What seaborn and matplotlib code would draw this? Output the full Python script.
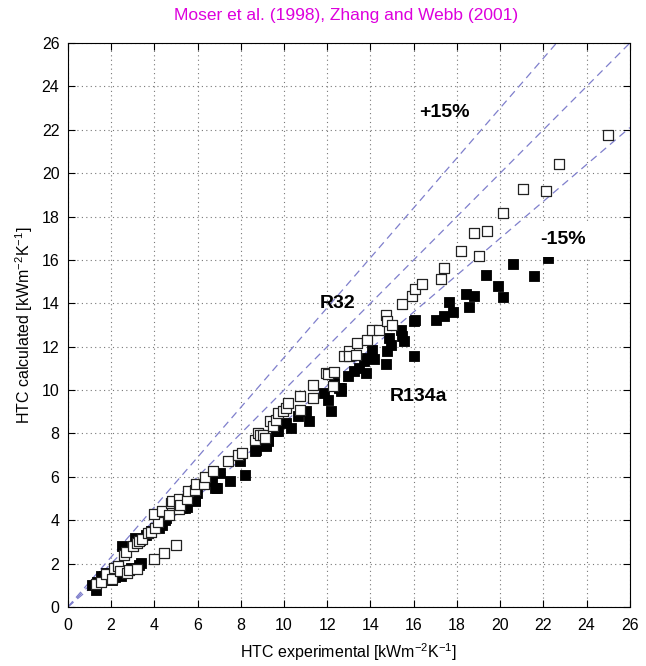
import matplotlib
matplotlib.use("Agg")
import matplotlib.pyplot as plt
import seaborn as sns
import numpy as np
import pandas as pd

# R32 data (open squares): experimental vs calculated HTC [kW m^-2 K^-1]
r32_exp = [1.30, 1.55, 1.75, 2.05, 2.15, 2.30, 2.40, 2.75, 2.85, 3.20,
           2.60, 2.70, 3.00, 3.20, 3.30, 3.45, 3.70, 3.85, 4.05, 4.15,
           4.00, 4.36, 4.70, 4.75, 4.82, 5.15, 5.15, 5.20, 5.50, 5.55,
           5.90, 5.95, 6.30, 6.35, 6.70, 7.43, 7.89, 8.04, 8.65, 8.80,
           8.88, 9.03, 9.11, 9.34, 9.49, 9.65, 9.72, 9.95, 10.10, 10.18,
           10.72, 10.72, 11.33, 11.33, 11.95, 12.03, 12.33, 12.25, 12.79, 13.02,
           13.02, 13.32, 13.40, 13.86, 14.09, 14.40, 14.70, 14.78, 15.01, 15.47,
           15.93, 16.08, 16.39, 17.26, 17.42, 18.18, 19.04, 18.77, 19.38, 20.15,
           21.07, 22.11, 22.72, 25.00, 4.00, 4.45, 5.00]
r32_calc = [1.05, 1.15, 1.50, 1.30, 1.80, 1.90, 1.65, 1.55, 1.72, 1.75,
            2.40, 2.55, 2.80, 2.95, 3.02, 3.15, 3.40, 3.45, 3.65, 3.90,
            4.30, 4.41, 4.25, 4.80, 4.87, 5.00, 4.50, 4.72, 5.00, 5.35,
            5.40, 5.65, 5.65, 6.00, 6.25, 6.71, 7.02, 7.10, 7.72, 8.02,
            7.95, 7.95, 7.79, 8.56, 8.33, 8.64, 8.94, 9.02, 9.17, 9.40,
            9.71, 9.10, 10.25, 9.64, 10.79, 10.72, 10.84, 10.18, 11.56, 11.79,
            11.56, 11.64, 12.17, 12.33, 12.79, 12.79, 13.48, 13.18, 13.02, 13.95,
            14.33, 14.64, 14.87, 15.14, 15.63, 16.40, 16.17, 17.25, 17.33, 18.17,
            19.28, 19.17, 20.42, 21.74, 2.20, 2.50, 2.85]

# R134a data (filled squares)
r134a_exp = [1.14, 1.30, 1.35, 1.53, 1.68, 1.76, 2.06, 2.20, 2.45, 2.68,
             2.91, 3.29, 3.37, 2.52, 3.13, 3.35, 3.60, 3.85, 4.21, 4.36,
             4.51, 4.55, 5.28, 5.43, 5.51, 5.89, 5.89, 5.97, 6.58, 6.66,
             6.81, 6.89, 7.04, 7.50, 7.96, 8.19, 8.65, 8.70, 9.19, 9.26,
             9.19, 9.26, 9.65, 9.72, 10.10, 10.34, 10.64, 11.03, 11.18, 11.87,
             12.02, 12.17, 12.56, 12.63, 12.94, 12.33, 12.63, 13.25, 13.48, 13.78,
             13.71, 13.86, 14.17, 14.70, 14.09, 14.78, 14.86, 14.93, 15.39, 15.47,
             15.55, 16.01, 16.01, 16.05, 17.05, 17.39, 17.62, 17.82, 18.41, 18.77,
             18.58, 19.35, 19.92, 20.11, 20.61, 21.56, 22.20]
r134a_calc = [1.02, 0.80, 1.15, 1.41, 1.45, 1.56, 1.26, 1.40, 1.41, 1.64,
              1.80, 1.95, 2.02, 2.79, 3.17, 3.10, 3.33, 3.50, 3.64, 3.79,
              4.02, 4.10, 4.56, 4.56, 4.60, 4.87, 4.95, 5.25, 5.87, 5.79,
              5.48, 5.48, 6.17, 5.79, 6.71, 6.10, 7.18, 7.25, 7.41, 7.64,
              7.49, 7.72, 8.10, 8.10, 8.48, 8.25, 8.79, 9.02, 8.56, 9.87,
              9.56, 9.02, 10.10, 9.94, 10.64, 10.33, 10.10, 10.87, 11.02, 10.79,
              11.33, 11.48, 11.41, 11.18, 11.87, 11.79, 12.40, 12.10, 12.79, 12.48,
              12.25, 11.56, 13.18, 13.25, 13.25, 13.41, 14.07, 13.59, 14.43, 14.33,
              13.82, 15.30, 14.79, 14.28, 15.79, 15.25, 16.10]

# Reference lines: perfect agreement and +/-15 % bands
band_factors = [1.15, 1.00, 0.85]
ticks = list(range(0, 27, 2))

sns.set_theme(style="ticks")
plt.rcParams["font.family"] = ["Liberation Sans", "DejaVu Sans"]
plt.rcParams["text.color"] = "black"
plt.rcParams["axes.labelcolor"] = "black"

fig = plt.figure(figsize=(6.46, 6.66), dpi=100)
ax = fig.add_axes([0.105, 0.0886, 0.870, 0.8468])

line_x = np.array([0.0, 26.0])
for f in band_factors:
    ax.plot(line_x, f * line_x, linestyle=(0, (6, 4)), color="#7f7fcc",
            linewidth=0.9, zorder=2)

df_134 = pd.DataFrame({"exp": r134a_exp, "calc": r134a_calc})
df_32 = pd.DataFrame({"exp": r32_exp, "calc": r32_calc})

sns.scatterplot(data=df_134, x="exp", y="calc", marker="s", s=42,
                color="black", edgecolor="black", linewidth=0.6, ax=ax, zorder=3)
sns.scatterplot(data=df_32, x="exp", y="calc", marker="s", s=42,
                facecolor="white", edgecolor="#222222", linewidth=0.9, ax=ax, zorder=4)

ax.set_xlim(0, 26)
ax.set_ylim(0, 26)
ax.set_xticks(ticks)
ax.set_yticks(ticks)
ax.tick_params(direction="in", length=5, width=0.8, top=True, right=True,
               labelsize=11.5, colors="black")
ax.tick_params(axis="x", pad=8)
ax.tick_params(axis="y", pad=6)
for s in ax.spines.values():
    s.set_linewidth(0.8)
    s.set_color("black")
ax.grid(True, linestyle=(0, (1, 3)), color="#777777", linewidth=0.8)
ax.set_axisbelow(True)

ax.set_xlabel(r"HTC experimental [kWm$^{\mathregular{-2}}$K$^{\mathregular{-1}}$]",
              fontsize=11.5, labelpad=6)
ax.set_ylabel(r"HTC calculated [kWm$^{\mathregular{-2}}$K$^{\mathregular{-1}}$]",
              fontsize=11.5, labelpad=5)

fig.text(0.536, 0.977, "Moser et al. (1998), Zhang and Webb (2001)",
         ha="center", va="center", fontsize=12.5, color="#dd00dd")

ax.text(17.4, 22.8, "+15%", fontsize=14, fontweight="bold", ha="center", va="center", zorder=6)
ax.text(22.9, 16.95, "-15%", fontsize=14, fontweight="bold", ha="center", va="center",
        zorder=6, bbox=dict(facecolor="white", edgecolor="none", pad=6.5))
ax.text(12.5, 14.0, "R32", fontsize=14, fontweight="bold", ha="center", va="center", zorder=6)
ax.text(16.2, 9.7, "R134a", fontsize=14, fontweight="bold", ha="center", va="center", zorder=6)

fig.savefig("out.png", dpi=100)
